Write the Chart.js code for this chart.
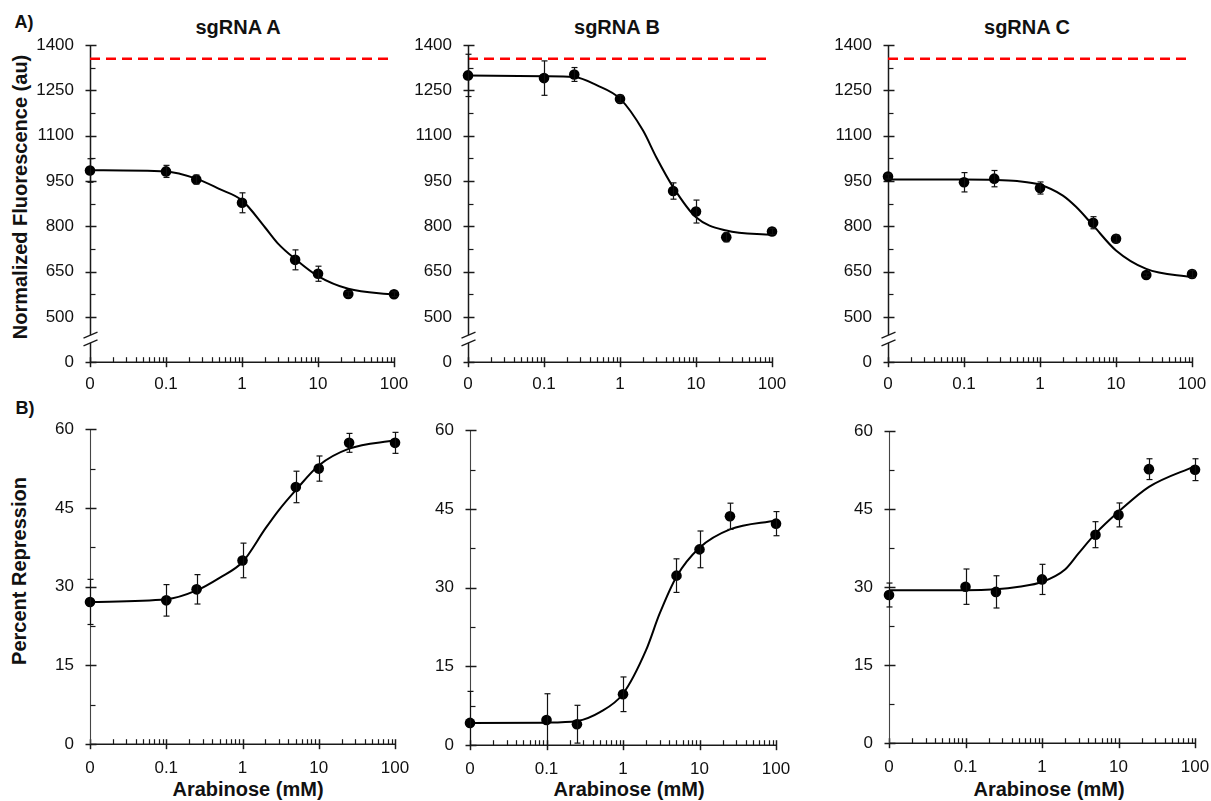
<!DOCTYPE html>
<html>
<head>
<meta charset="utf-8">
<title>Arabinose dose response</title>
<script src="https://cdn.jsdelivr.net/npm/chart.js@4.4.0/dist/chart.umd.min.js"></script>
<style>
  html, body { margin: 0; padding: 0; background: #fff; overflow: hidden; }
  body { width: 1211px; height: 801px; position: relative; font-family: "Liberation Sans", Arial, sans-serif; color: #111; }
  canvas { position: absolute; }
  .lbl { position: absolute; font-weight: bold; white-space: nowrap; transform: translate(-50%, -50%); }
  .vert { transform: translate(-50%, -50%) rotate(-90deg); }
</style>
</head>
<body>
<div class="lbl" style="left:24px; top:22px; font-size:18px;">A)</div>
<div class="lbl" style="left:25px; top:408px; font-size:18px;">B)</div>
<div class="lbl" style="left:238px; top:27px; font-size:20px;">sgRNA A</div>
<div class="lbl" style="left:617px; top:27px; font-size:20px;">sgRNA B</div>
<div class="lbl" style="left:1027px; top:27px; font-size:20px;">sgRNA C</div>
<div class="lbl vert" style="left:20px; top:197px; font-size:20px;">Normalized Fluorescence (au)</div>
<div class="lbl vert" style="left:19px; top:571px; font-size:20px;">Percent Repression</div>
<div class="lbl" style="left:248px; top:789px; font-size:20px;">Arabinose (mM)</div>
<div class="lbl" style="left:629px; top:789px; font-size:20px;">Arabinose (mM)</div>
<div class="lbl" style="left:1049px; top:789px; font-size:20px;">Arabinose (mM)</div>

<canvas id="fA"></canvas>
<canvas id="fB"></canvas>
<canvas id="fC"></canvas>
<canvas id="rA"></canvas>
<canvas id="rB"></canvas>
<canvas id="rC"></canvas>

<script>
// arabinose concentrations (mM); 0 is drawn one decade left of 0.1
const concentrations = [0, 0.1, 0.25, 1, 5, 10, 25, 100];
const fitConcentrations = [0, 0.1, 0.25, 0.5, 1, 2, 3, 5, 10, 25, 100];
const zeroPosition = 0.01;

const xTickValues = [0.01, 0.1, 1, 10, 100];
const xTickLabels = ['0', '0.1', '1', '10', '100'];

// fluorescence axis is broken: "0" sits where 350 would be
const fluorTickValues = [350, 500, 650, 800, 950, 1100, 1250, 1400];
const fluorTickLabels = ['0', '500', '650', '800', '950', '1100', '1250', '1400'];
const fluorMinorTicks = [575, 725, 875, 1025, 1175, 1325];
const reprTickValues = [0, 15, 30, 45, 60];
const reprTickLabels = ['0', '15', '30', '45', '60'];
const reprMinorTicks = [7.5, 22.5, 37.5, 52.5];

const controlLevel = 1355;

// A) normalized fluorescence
const fluorA = [985, 982, 955, 878, 689, 643, 576, 575];
const fluorAErr = [39, 20, 15, 33, 33, 25, 8, 8];
const fluorAFit = [986, 982, 958, 924, 886, 797, 742, 692, 635, 593, 574];

const fluorB = [1300, 1291, 1303, 1222, 917, 849, 764, 783];
const fluorBErr = [70, 57, 23, 12, 27, 38, 15, 10];
const fluorBFit = [1300, 1297, 1295, 1267, 1223, 1118, 1029, 930, 830, 786, 772];

const fluorC = [965, 946, 958, 927, 812, 759, 639, 642];
const fluorCErr = [8, 32, 27, 20, 20, 12, 6, 12];
const fluorCFit = [955, 955, 954, 950, 938, 902, 864, 803, 720, 659, 631];

// B) percent repression
const reprA = [27.1, 27.4, 29.5, 35.0, 49.0, 52.5, 57.4, 57.4];
const reprAErr = [4.3, 3.0, 2.8, 3.3, 3.0, 2.4, 1.8, 2.0];
const reprAFit = [27.1, 27.6, 29.3, 31.7, 34.7, 41.1, 44.6, 48.4, 53.1, 56.3, 57.9];

const reprB = [4.25, 4.8, 4.0, 9.7, 32.3, 37.3, 43.6, 42.2];
const reprBErr = [6.0, 5.0, 3.6, 3.3, 3.2, 3.5, 2.5, 2.3];
const reprBFit = [4.25, 4.3, 4.6, 6.3, 9.8, 18.1, 25.0, 32.1, 37.6, 41.1, 42.8];

const reprC = [28.5, 30.1, 29.1, 31.5, 40.1, 43.9, 52.7, 52.6];
const reprCErr = [2.3, 3.4, 3.1, 2.9, 2.5, 2.3, 2.0, 2.1];
const reprCFit = [29.4, 29.4, 29.6, 30.1, 31.0, 33.4, 36.5, 40.3, 44.5, 49.3, 53.3];

const tickFont = { family: '"Liberation Sans", Arial, sans-serif', size: 17 };
const AXIS_LEFT = 60, AXIS_BOTTOM = 40, PAD_TOP = 15, PAD_RIGHT = 20;

const xPos = c => (c === 0 ? zeroPosition : c);
const pairs = (xs, ys) => xs.map((c, i) => ({ x: xPos(c), y: ys[i] }));

function seg(ctx, x1, y1, x2, y2) {
  ctx.beginPath();
  ctx.moveTo(x1, y1);
  ctx.lineTo(x2, y2);
  ctx.stroke();
}

// axis lines, tick marks, axis break and error bars
const axesPlugin = {
  id: 'axesDraw',
  beforeDatasetsDraw(chart, args, opts) {
    const { ctx, chartArea: a, scales: { x, y } } = chart;
    ctx.save();
    ctx.strokeStyle = '#1a1a1a';
    ctx.lineWidth = 1.5;

    seg(ctx, a.left, a.bottom, a.right, a.bottom);
    xTickValues.forEach(v => {
      const px = Math.round(x.getPixelForValue(v)) + 0.5;
      seg(ctx, px, a.bottom - 5, px, a.bottom + 5);
    });
    ctx.lineWidth = 1.2;
    xTickValues.slice(0, -1).forEach(d => {
      for (let k = 2; k <= 9; k++) {
        const px = Math.round(x.getPixelForValue(d * k)) + 0.5;
        seg(ctx, px, a.bottom, px, a.bottom - 5);
      }
    });

    ctx.lineWidth = opts.axisWidth;
    ctx.strokeStyle = opts.axisColor;
    const ax = Math.round(a.left) + 0.5;
    if (opts.brk) {
      const y1 = y.getPixelForValue(opts.brk[0]);
      const y2 = y.getPixelForValue(opts.brk[1]);
      seg(ctx, ax, a.top, ax, y1);
      seg(ctx, ax, y2, ax, a.bottom);
      ctx.strokeStyle = '#1a1a1a';
      ctx.lineWidth = 1.3;
      seg(ctx, ax - 7, y1 + 3, ax + 7, y1 - 3);
      seg(ctx, ax - 7, y2 + 3, ax + 7, y2 - 3);
    } else {
      seg(ctx, ax, a.top, ax, a.bottom);
    }
    ctx.strokeStyle = '#1a1a1a';
    ctx.lineWidth = 1.5;
    opts.yMajor.forEach(v => {
      const py = Math.round(y.getPixelForValue(v)) + 0.5;
      seg(ctx, ax - 5, py, ax + 6, py);
    });
    ctx.lineWidth = 1.2;
    opts.yMinor.forEach(v => {
      const py = Math.round(y.getPixelForValue(v)) + 0.5;
      seg(ctx, ax, py, ax + 5, py);
    });
    ctx.restore();
  },
  afterDatasetsDraw(chart) {
    const { ctx, chartArea: a, scales: { y } } = chart;
    ctx.save();
    ctx.strokeStyle = '#111';
    ctx.lineWidth = 1.2;
    chart.data.datasets.forEach((ds, i) => {
      if (!ds.errors) return;
      const meta = chart.getDatasetMeta(i);
      meta.data.forEach((pt, j) => {
        const v = ds.data[j].y, e = ds.errors[j];
        const top = Math.max(a.top, y.getPixelForValue(v + e));
        const bot = Math.min(a.bottom, y.getPixelForValue(v - e));
        const px = Math.round(pt.x) + 0.5;
        seg(ctx, px, top, px, bot);
        if (top > a.top) seg(ctx, px - 3, top, px + 3, top);
        if (bot < a.bottom) seg(ctx, px - 3, bot, px + 3, bot);
      });
    });
    ctx.restore();
  }
};

function makePanel(id, area, values, errors, fit, yTicks, yLabels, yMinor, opts) {
  const areaW = area.right - area.left, areaH = area.bottom - area.top;
  const w = areaW + AXIS_LEFT + PAD_RIGHT;
  const h = areaH + PAD_TOP + AXIS_BOTTOM;
  const cv = document.getElementById(id);
  cv.width = w;
  cv.height = h;

  const datasets = [
    {
      data: pairs(concentrations, values),
      errors: errors,
      showLine: false,
      pointRadius: 5.3,
      pointHoverRadius: 5.3,
      backgroundColor: '#000',
      borderWidth: 0,
      clip: false,
      order: 0
    },
    {
      data: pairs(fitConcentrations, fit),
      showLine: true,
      cubicInterpolationMode: 'monotone',
      borderColor: '#000',
      borderWidth: 2,
      pointRadius: 0,
      clip: false,
      order: 1
    }
  ];
  if (opts.control) {
    datasets.push({
      data: [{ x: zeroPosition, y: controlLevel }, { x: 100, y: controlLevel }],
      showLine: true,
      borderColor: '#ff0000',
      borderWidth: 2.5,
      borderDash: [10, 6],
      pointRadius: 0,
      order: 2
    });
  }

  const chart = new Chart(cv, {
    type: 'scatter',
    data: { datasets },
    options: {
      responsive: false,
      maintainAspectRatio: false,
      animation: false,
      devicePixelRatio: 1,
      layout: { padding: { top: PAD_TOP, right: PAD_RIGHT, left: 0, bottom: 0 } },
      plugins: {
        legend: { display: false },
        tooltip: { enabled: false },
        axesDraw: {
          yMajor: yTicks,
          yMinor: yMinor,
          brk: opts.brk,
          axisWidth: opts.axisWidth,
          axisColor: opts.axisColor
        }
      },
      scales: {
        x: {
          type: 'logarithmic',
          min: 0.01,
          max: 100,
          grid: { display: false, drawTicks: false },
          border: { display: false },
          afterBuildTicks: s => { s.ticks = xTickValues.map(v => ({ value: v })); },
          afterFit: s => { s.height = AXIS_BOTTOM; },
          ticks: {
            autoSkip: false,
            maxRotation: 0,
            padding: opts.xPad,
            color: '#111',
            font: tickFont,
            callback: v => xTickLabels[xTickValues.indexOf(v)]
          }
        },
        y: {
          type: 'linear',
          min: yTicks[0],
          max: yTicks[yTicks.length - 1],
          grid: { display: false, drawTicks: false },
          border: { display: false },
          afterBuildTicks: s => { s.ticks = yTicks.map(v => ({ value: v })); },
          afterFit: s => { s.width = AXIS_LEFT; },
          ticks: {
            autoSkip: false,
            padding: 16,
            color: '#111',
            font: tickFont,
            callback: v => yLabels[yTicks.indexOf(v)]
          }
        }
      }
    },
    plugins: [axesPlugin]
  });

  // line the plot area up with the wanted rectangle
  const ca = chart.chartArea;
  const offL = ca.left, offT = ca.top, offR = w - ca.right, offB = h - ca.bottom;
  cv.style.left = (area.left - offL) + 'px';
  cv.style.top = (area.top - offT) + 'px';
  chart.resize(areaW + offL + offR, areaH + offT + offB);
  return chart;
}

const topOpts = { control: true, brk: [440, 414], axisWidth: 1.5, axisColor: '#1a1a1a', xPad: 12 };
const botOpts = { control: false, brk: null, axisWidth: 1.1, axisColor: '#444', xPad: 14 };

makePanel('fA', { left: 90, right: 394, top: 45, bottom: 362 }, fluorA, fluorAErr, fluorAFit,
  fluorTickValues, fluorTickLabels, fluorMinorTicks, topOpts);
makePanel('fB', { left: 468, right: 772, top: 45, bottom: 362 }, fluorB, fluorBErr, fluorBFit,
  fluorTickValues, fluorTickLabels, fluorMinorTicks, topOpts);
makePanel('fC', { left: 888, right: 1192, top: 45, bottom: 362 }, fluorC, fluorCErr, fluorCFit,
  fluorTickValues, fluorTickLabels, fluorMinorTicks, topOpts);

makePanel('rA', { left: 90, right: 395, top: 429, bottom: 744 }, reprA, reprAErr, reprAFit,
  reprTickValues, reprTickLabels, reprMinorTicks, botOpts);
makePanel('rB', { left: 470, right: 776, top: 430, bottom: 745 }, reprB, reprBErr, reprBFit,
  reprTickValues, reprTickLabels, reprMinorTicks, botOpts);
makePanel('rC', { left: 889, right: 1195, top: 431, bottom: 743 }, reprC, reprCErr, reprCFit,
  reprTickValues, reprTickLabels, reprMinorTicks, botOpts);
</script>
</body>
</html>
